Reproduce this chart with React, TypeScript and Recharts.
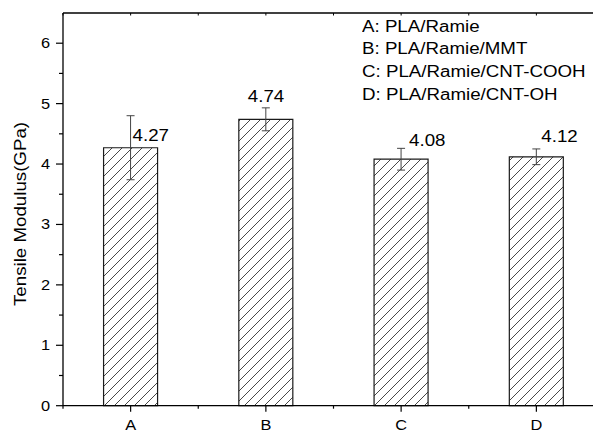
import React from 'react';
import { BarChart, Bar, XAxis, YAxis, ErrorBar, LabelList, Legend, Label } from 'recharts';

const categories = ['A', 'B', 'C', 'D'];
const modulus = [4.27, 4.74, 4.08, 4.12];
const modulusErr = [0.53, 0.19, 0.18, 0.13];
const legendLabels = ['A: PLA/Ramie', 'B: PLA/Ramie/MMT', 'C: PLA/Ramie/CNT-COOH', 'D: PLA/Ramie/CNT-OH'];
const yTicks = [0, 0.5, 1, 1.5, 2, 2.5, 3, 3.5, 4, 4.5, 5, 5.5, 6, 6.5];
const yTitle = 'Tensile Modulus(GPa)';

// style constants
const CHART_W = 620;
const CHART_H = 430;
const Y_AXIS_W = 63;
const X_AXIS_H = 24.3;
const TOP_AXIS_H = 1;
const MARGIN = { top: 12, right: 16, bottom: 0, left: 0 };
const BAND = (CHART_W - Y_AXIS_W - MARGIN.right) / categories.length;
const SX = 1.17;
const FONT = '"Liberation Sans", Arial, sans-serif';
const LABEL_OFFSETS = [
  { dx: 2, dy: -7 },
  { dx: -18, dy: -17 },
  { dx: 8, dy: -13 },
  { dx: 5, dy: -15 },
];

const data = categories.map((c, i) => ({ cat: c, value: modulus[i], err: modulusErr[i] }));

function SText({ x, y, size, anchor = 'start', children, rotate = 0 }: any) {
  return (
    <text
      transform={`translate(${x},${y}) rotate(${rotate}) scale(${SX},1)`}
      x={0}
      y={0}
      textAnchor={anchor}
      fontSize={size}
      fontFamily={FONT}
      fill="#000"
    >
      {children}
    </text>
  );
}

const XTick = (props: any) => {
  const { x, y, payload, index } = props;
  return (
    <g>
      <line x1={x} y1={y} x2={x} y2={y + 6} stroke="#000" strokeWidth={1.2} />
      <line x1={x + BAND / 2} y1={y} x2={x + BAND / 2} y2={y + 3} stroke="#000" strokeWidth={1.2} />
      {index === 0 && (
        <line x1={x - BAND / 2} y1={y} x2={x - BAND / 2} y2={y + 3} stroke="#000" strokeWidth={1.2} />
      )}
      <SText x={x} y={y + 24.3} size={14} anchor="middle">
        {payload.value}
      </SText>
    </g>
  );
};

const TopTick = (props: any) => {
  const { x, y, index } = props;
  return (
    <g>
      <line x1={x} y1={y} x2={x} y2={y + 2.5} stroke="#000" strokeWidth={1} />
      <line x1={x + BAND / 2} y1={y} x2={x + BAND / 2} y2={y + 2.5} stroke="#000" strokeWidth={1} />
      {index === 0 && (
        <line x1={x - BAND / 2} y1={y} x2={x - BAND / 2} y2={y + 2.5} stroke="#000" strokeWidth={1} />
      )}
    </g>
  );
};

const YTick = (props: any) => {
  const { x, y, payload } = props;
  const v = payload.value;
  const major = Number.isInteger(v);
  if (v === 6.5) return <g />;
  return (
    <g>
      <line x1={x - (major ? 7 : 4)} y1={y} x2={x} y2={y} stroke="#000" strokeWidth={1.2} />
      {major && (
        <SText x={x - 13} y={y + 5} size={14} anchor="end">
          {v}
        </SText>
      )}
    </g>
  );
};

const renderYTitle = () => (
  <SText x={26} y={214} size={16} anchor="middle" rotate={-90}>
    {yTitle}
  </SText>
);

const renderBarLabel = (props: any) => {
  const { x, y, width, value, index } = props;
  const i = index ?? modulus.indexOf(value);
  const off = LABEL_OFFSETS[i] || { dx: 0, dy: -8 };
  return (
    <SText x={x + width / 2 + off.dx} y={y + off.dy} size={16} anchor="start">
      {Number(value).toFixed(2)}
    </SText>
  );
};

const renderLegend = () => (
  <div
    style={{
      fontFamily: FONT,
      fontSize: 16,
      lineHeight: '22.7px',
      color: '#000',
      transform: `scaleX(${SX})`,
      transformOrigin: 'left top',
      whiteSpace: 'nowrap',
      textAlign: 'left',
    }}
  >
    {legendLabels.map((l) => (
      <div key={l}>{l}</div>
    ))}
  </div>
);

export default function App() {
  return (
    <div
      style={{
        position: 'absolute',
        left: 0,
        top: 0,
        width: 593,
        height: 430,
        overflow: 'hidden',
        background: '#fff',
      }}
    >
      <BarChart
        width={CHART_W}
        height={CHART_H}
        data={data}
        margin={MARGIN}
        barCategoryGap="30%"
      >
        <defs>
          <pattern id="hatch" patternUnits="userSpaceOnUse" width={10} height={10}>
            <rect x={0} y={0} width={10} height={10} fill="#fff" />
            <path d="M-1,1 l2,-2 M0,10 l10,-10 M9,11 l2,-2" stroke="#333" strokeWidth={0.9} />
          </pattern>
        </defs>
        <XAxis
          dataKey="cat"
          height={X_AXIS_H}
          tickSize={0}
          tickMargin={0}
          interval={0}
          tick={<XTick />}
          axisLine={{ stroke: '#000', strokeWidth: 1.3 }}
          tickLine={false}
        />
        <XAxis
          xAxisId="top"
          orientation="top"
          dataKey="cat"
          height={TOP_AXIS_H}
          tickSize={0}
          tickMargin={0}
          interval={0}
          tick={<TopTick />}
          axisLine={{ stroke: '#000', strokeWidth: 1.3 }}
          tickLine={false}
        />
        <YAxis
          type="number"
          domain={[0, 6.5]}
          ticks={yTicks}
          width={Y_AXIS_W}
          tickSize={0}
          tickMargin={0}
          interval={0}
          tick={<YTick />}
          axisLine={{ stroke: '#000', strokeWidth: 1.3 }}
          tickLine={false}
        >
          <Label content={renderYTitle} />
        </YAxis>
        <Legend
          layout="horizontal"
          verticalAlign="middle"
          align="center"
          content={renderLegend}
          wrapperStyle={{ position: 'absolute', left: 362, top: 15.5, width: 'auto', bottom: 'auto' }}
        />
        <Bar dataKey="value" fill="url(#hatch)" stroke="#1a1a1a" strokeWidth={1.2} isAnimationActive={false}>
          <ErrorBar dataKey="err" width={4} stroke="#444" strokeWidth={1} direction="y" />
          <LabelList dataKey="value" content={renderBarLabel} />
        </Bar>
      </BarChart>
    </div>
  );
}
